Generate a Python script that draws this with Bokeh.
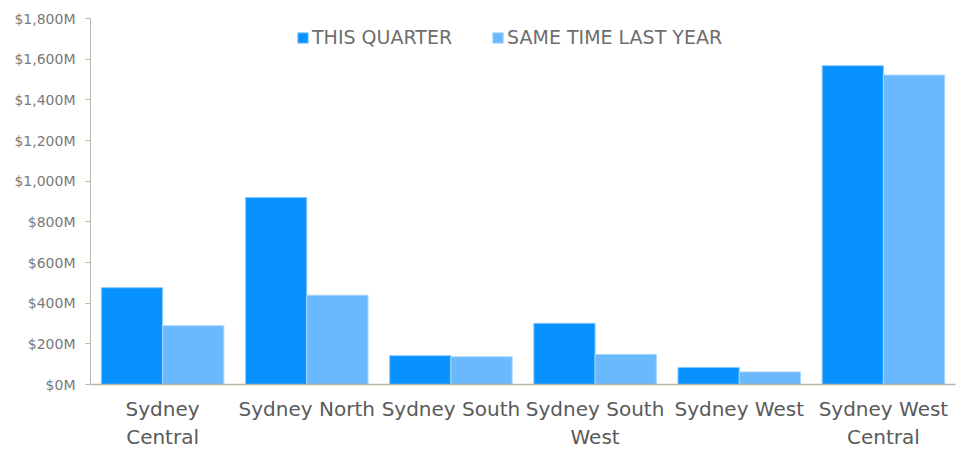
from bokeh.plotting import figure
from bokeh.models import ColumnDataSource, Range1d, FixedTicker, Legend, LegendItem, CustomJSTickFormatter
from bokeh.embed import file_html
from bokeh.resources import INLINE

regions = ["Sydney Central", "Sydney North", "Sydney South", "Sydney South West", "Sydney West", "Sydney West Central"]
region_labels = ["Sydney\nCentral", "Sydney North", "Sydney South", "Sydney South\nWest", "Sydney West", "Sydney West\nCentral"]
this_quarter = [476, 920, 142, 301, 84, 1568]
last_year = [289, 439, 136, 148, 62, 1522]
y_ticks = [0, 200, 400, 600, 800, 1000, 1200, 1400, 1600, 1800]
series_names = ["THIS QUARTER", "SAME TIME LAST YEAR"]

FONT = "DejaVu Sans"
idx = list(range(len(regions)))
bw = 0.425
source = ColumnDataSource(dict(region=regions, x=idx,
                               x_tq=[i - bw / 2 for i in idx], x_ly=[i + bw / 2 for i in idx],
                               tq=this_quarter, ly=last_year))

p = figure(width=956, height=452, x_range=Range1d(-0.5, len(regions) - 0.5), y_range=Range1d(0, 1800),
           output_backend="svg", toolbar_location=None, min_border_left=90, min_border_top=18,
           min_border_right=1, min_border_bottom=60)
p.outline_line_color = None
p.grid.grid_line_color = None

r1 = p.vbar(x="x_tq", top="tq", width=bw, source=source,
            fill_color="#0892FF", line_color="#8CCBFF", line_width=1)
r2 = p.vbar(x="x_ly", top="ly", width=bw, source=source,
            fill_color="#69B9FC", line_color="#A8D6FF", line_width=1)

p.yaxis.ticker = FixedTicker(ticks=y_ticks)
p.yaxis.formatter = CustomJSTickFormatter(code="return '$' + tick.toLocaleString('en-US') + 'M';")
p.yaxis.major_tick_in = 0
p.yaxis.major_tick_out = 5
p.yaxis.minor_tick_line_color = None
p.yaxis.axis_line_color = "#B8B8A8"
p.yaxis.major_tick_line_color = "#B8B8A8"
p.yaxis.major_label_text_font = FONT
p.yaxis.major_label_text_font_size = "14px"
p.yaxis.major_label_text_color = "#7A7A7A"
p.yaxis.major_label_standoff = 10

p.xaxis.ticker = FixedTicker(ticks=idx)
p.xaxis.major_label_overrides = {i: lab for i, lab in zip(idx, region_labels)}
p.xaxis.axis_line_color = "#B8B8A8"
p.xaxis.axis_line_width = 1.5
p.xaxis.major_tick_line_color = None
p.xaxis.minor_tick_line_color = None
p.xaxis.major_label_text_font = FONT
p.xaxis.major_label_text_font_size = "20px"
p.xaxis.major_label_text_color = "#5A5A5A"
p.xaxis.major_label_standoff = 6

legend = Legend(items=[LegendItem(label=series_names[0], renderers=[r1]),
                       LegendItem(label=series_names[1], renderers=[r2])],
                location=(206, 336), orientation="horizontal")
legend.border_line_color = None
legend.background_fill_alpha = 0
legend.label_text_font = FONT
legend.label_text_font_size = "19px"
legend.label_text_color = "#6E6E6E"
legend.glyph_width = 13
legend.glyph_height = 13
legend.label_standoff = 3
legend.spacing = 39
legend.margin = 0
legend.padding = 2
p.add_layout(legend)

open("out.html", "w").write(file_html(p, INLINE))
